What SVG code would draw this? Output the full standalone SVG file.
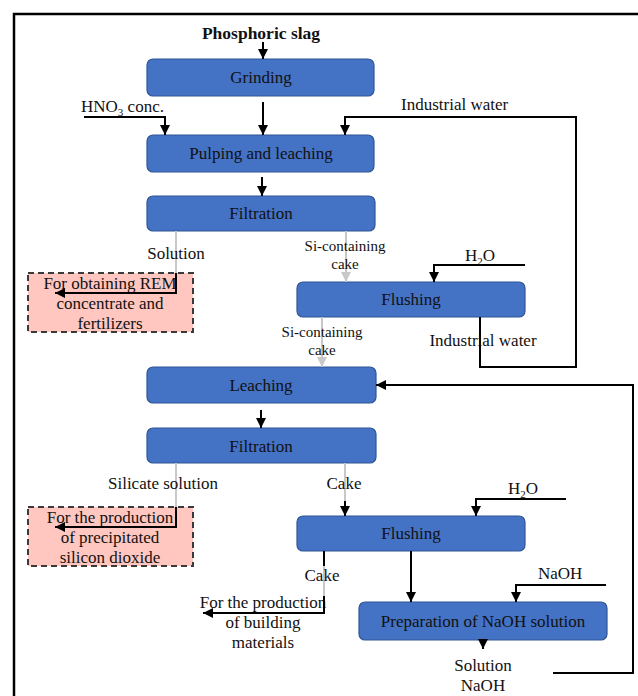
<svg xmlns="http://www.w3.org/2000/svg" width="638" height="696" viewBox="0 0 638 696">
<defs>
<marker id="ab" markerUnits="userSpaceOnUse" markerWidth="12" markerHeight="12" viewBox="0 0 12 12" refX="11" refY="6" orient="auto"><path d="M1,1 L11,6 L1,11 Z" fill="#000"/></marker>
<marker id="ag" markerUnits="userSpaceOnUse" markerWidth="12" markerHeight="12" viewBox="0 0 12 12" refX="11" refY="6" orient="auto"><path d="M1,1 L11,6 L1,11 Z" fill="#c8c8c8"/></marker>
<style>
.box{fill:#4472c4;stroke:#2f5597;stroke-width:1.2}
.pink{fill:#ffc7bf;stroke:#3a3a3a;stroke-width:2;stroke-dasharray:6,4}
.bt{font-family:"Liberation Serif","Times New Roman",serif;font-size:17px;fill:#111;text-anchor:middle}
.lb{font-family:"Liberation Serif","Times New Roman",serif;font-size:17px;fill:#111;text-anchor:middle}
.sm{font-family:"Liberation Serif","Times New Roman",serif;font-size:15px;fill:#111;text-anchor:middle}
.k{fill:none;stroke:#000;stroke-width:2}
.g{fill:none;stroke:#c8c8c8;stroke-width:2}
</style>
</defs>
<rect width="638" height="696" fill="#fff"/>
<path d="M14,696 L14,14 L638,14" fill="none" stroke="#000" stroke-width="2.5"/>

<text x="261" y="39" class="lb" style="font-weight:bold;font-size:17.5px">Phosphoric slag</text>

<g id="grinding"><rect class="box" x="147" y="59" width="227" height="37" rx="6"/><text class="bt" x="261" y="83">Grinding</text></g>
<g id="pulping"><rect class="box" x="147" y="135" width="227" height="37" rx="6"/><text class="bt" x="261" y="159">Pulping and leaching</text></g>
<g id="filtration1"><rect class="box" x="147" y="196" width="228" height="35" rx="6"/><text class="bt" x="261" y="219">Filtration</text></g>
<g id="rem"><rect class="pink" x="28" y="273" width="165" height="59"/><text class="lb" x="110" y="289">For obtaining REM</text><text class="lb" x="110" y="309">concentrate and</text><text class="lb" x="110" y="329">fertilizers</text></g>
<g id="flushing1"><rect class="box" x="297" y="282" width="228" height="35" rx="6"/><text class="bt" x="411" y="305">Flushing</text></g>
<g id="leaching"><rect class="box" x="147" y="367" width="229" height="36" rx="6"/><text class="bt" x="261" y="391">Leaching</text></g>
<g id="filtration2"><rect class="box" x="147" y="428" width="229" height="35" rx="6"/><text class="bt" x="261" y="452">Filtration</text></g>
<g id="silica"><rect class="pink" x="28" y="507" width="165" height="59"/><text class="lb" x="110" y="523">For the production</text><text class="lb" x="110" y="543">of precipitated</text><text class="lb" x="110" y="563">silicon dioxide</text></g>
<g id="flushing2"><rect class="box" x="297" y="516" width="228" height="35" rx="6"/><text class="bt" x="411" y="539">Flushing</text></g>
<g id="naohprep"><rect class="box" x="359" y="602" width="248" height="38" rx="6"/><text class="bt" x="483" y="627">Preparation of NaOH solution</text></g>
<g id="building"><text class="lb" x="263" y="608">For the production</text><text class="lb" x="263" y="628">of building</text><text class="lb" x="263" y="648">materials</text></g>

<g id="connectors">
<path class="k" d="M263,42 L263,59" marker-end="url(#ab)"/>
<path class="k" d="M263,102 L263,135" marker-end="url(#ab)"/>
<path class="k" d="M84,117 L165,117 L165,135" marker-end="url(#ab)"/>
<path class="k" d="M480,317 L480,367 L576,367 L576,117 L345,117 L345,135" marker-end="url(#ab)"/>
<path class="k" d="M262,177 L262,196" marker-end="url(#ab)"/>
<path class="g" d="M176,231 L176,273"/>
<path class="k" d="M176,273 L176,293 L55,293" marker-end="url(#ab)"/>
<path class="g" d="M346,231 L346,282" marker-end="url(#ag)"/>
<path class="k" d="M525,265 L434,265 L434,282" marker-end="url(#ab)"/>
<path class="g" d="M322,317 L322,367" marker-end="url(#ag)"/>
<path class="k" d="M553,673 L633,673 L633,385 L376,385" marker-end="url(#ab)"/>
<path class="k" d="M261,410 L261,428" marker-end="url(#ab)"/>
<path class="g" d="M176,463 L176,507"/>
<path class="k" d="M176,507 L176,527 L55,527" marker-end="url(#ab)"/>
<path class="g" d="M345,463 L345,501"/>
<path class="k" d="M345,501 L345,516" marker-end="url(#ab)"/>
<path class="k" d="M566,499 L476,499 L476,516" marker-end="url(#ab)"/>
<path class="k" d="M411,551 L411,602" marker-end="url(#ab)"/>
<path class="k" d="M324,551 L324,566"/>
<path class="g" d="M324,566 L324,596"/>
<path class="k" d="M324,596 L324,613 L203,613" marker-end="url(#ab)"/>
<path class="k" d="M606,585 L516,585 L516,602" marker-end="url(#ab)"/>
<path class="k" d="M483,640 L483,649" marker-end="url(#ab)"/>
</g>

<g id="labels">
<text class="lb" x="81" y="112" style="text-anchor:start">HNO<tspan font-size="11" dy="4">3</tspan><tspan dy="-4"> conc.</tspan></text>
<text class="lb" x="401" y="110" style="text-anchor:start">Industrial water</text>
<text class="lb" x="176" y="259">Solution</text>
<text class="sm" x="345" y="251">Si-containing</text>
<text class="sm" x="345" y="269">cake</text>
<text class="lb" x="465" y="261" style="text-anchor:start">H<tspan font-size="11" dy="4">2</tspan><tspan dy="-4">O</tspan></text>
<text class="sm" x="322" y="337">Si-containing</text>
<text class="sm" x="322" y="355">cake</text>
<text class="lb" x="483" y="346">Industrial water</text>
<text class="lb" x="163" y="489">Silicate solution</text>
<text class="lb" x="344" y="489">Cake</text>
<text class="lb" x="508" y="494" style="text-anchor:start">H<tspan font-size="11" dy="4">2</tspan><tspan dy="-4">O</tspan></text>
<text class="lb" x="322" y="581">Cake</text>
<text class="lb" x="538" y="579" style="text-anchor:start">NaOH</text>
<text class="lb" x="483" y="671">Solution</text>
<text class="lb" x="483" y="691">NaOH</text>
</g>
</svg>
